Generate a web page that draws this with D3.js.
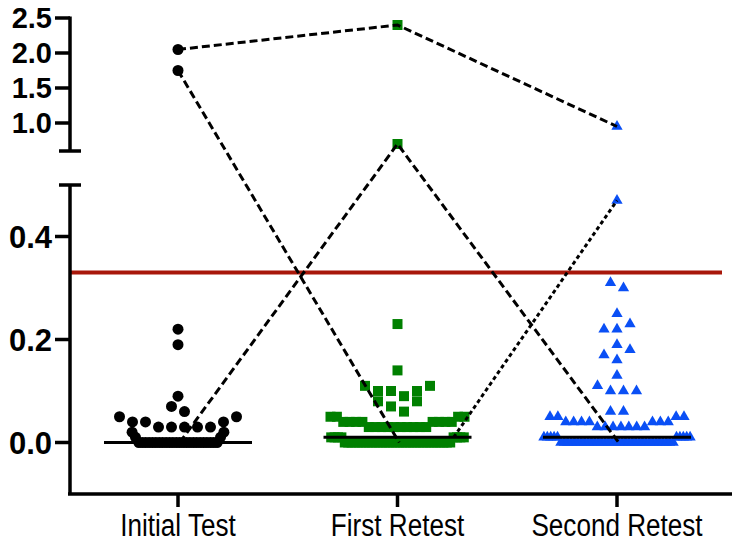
<!DOCTYPE html>
<html>
<head>
<meta charset="utf-8">
<script src="https://cdn.jsdelivr.net/npm/d3@7"></script>
<style>
body { margin: 0; background: #fff; }
svg { display: block; }
</style>
</head>
<body>
<div id="chart"></div>
<script>
// Data
var categories = ["Initial Test", "First Retest", "Second Retest"];

var initialTest = [2.05, 1.75, 0.22, 0.19, 0.09, 0.07, 0.06,
	0.05, 0.05, 0.04, 0.04, 0.04, 0.03, 0.03, 0.03, 0.03, 0.03,
	0.02, 0.02, 0.01, 0.01,
	0, 0, 0, 0, 0, 0, 0, 0, 0, 0, 0, 0, 0, 0, 0, 0, 0, 0, 0, 0, 0, 0, 0, 0];

var firstRetest = [2.4, 0.7, 0.23, 0.14,
	0.11, 0.11, 0.10, 0.10, 0.10, 0.09,
	0.08, 0.08, 0.07, 0.06,
	0.05, 0.05, 0.05, 0.05,
	0.04, 0.04, 0.04, 0.04, 0.04, 0.04, 0.04, 0.04,
	0.03, 0.03, 0.03, 0.03, 0.03, 0.03, 0.03, 0.03, 0.03, 0.03,
	0.01, 0.01, 0.01, 0.01, 0.01, 0.01, 0.01, 0.01,
	0, 0, 0, 0, 0, 0, 0, 0, 0, 0, 0, 0, 0, 0, 0, 0,
	0, 0, 0, 0, 0, 0, 0, 0, 0, 0, 0, 0, 0, 0, 0, 0];

var secondRetest = [0.95, 0.47, 0.31, 0.30, 0.25, 0.23, 0.22, 0.22,
	0.19, 0.18, 0.17, 0.16, 0.13, 0.11, 0.10, 0.10, 0.10, 0.06, 0.06,
	0.05, 0.05, 0.05, 0.05,
	0.04, 0.04, 0.04, 0.04, 0.04, 0.04, 0.04,
	0.03, 0.03, 0.03, 0.03, 0.03, 0.03, 0.03,
	0.01, 0.01, 0.01, 0.01, 0.01, 0.01, 0.01, 0.01, 0.01, 0.01,
	0, 0, 0, 0, 0, 0, 0, 0, 0, 0, 0, 0, 0, 0, 0, 0, 0,
	0, 0, 0, 0, 0, 0, 0, 0, 0, 0, 0, 0, 0, 0, 0, 0, 0];

// connecting lines (one value per category, null = no point)
var linkTop = [2.05, 2.4, 0.95];
var linkDown = [1.75, 0, null];
var linkZigzag = [0, 0.7, 0];
var linkDotted = [null, 0.01, 0.47];

var threshold = 0.33;

var upperTicks = [1.0, 1.5, 2.0, 2.5];
var lowerTicks = [0.0, 0.2, 0.4];

// Dimensions
var outerWidth = 732;
var outerHeight = 546;
var axisX = 70;
var axisY = 494;

var groups = [initialTest, firstRetest, secondRetest];
var colors = ["#000000", "#008000", "#0a4ff5"];
var shapes = [d3.symbolCircle, d3.symbolSquare, d3.symbolTriangle];
var symSizes = [95, 100, 55];

var svg = d3.select("#chart").append("svg")
	.attr("width", outerWidth)
	.attr("height", outerHeight);

// broken y axis: two scales
var yUpper = d3.scaleLinear().domain([0.6, 2.5]).range([151, 18]);
var yLower = d3.scaleLinear().domain([-0.1, 0.5]).range([494, 185]);
function yPos(v) { return v > 0.6 ? yUpper(v) : yLower(v); }

var xScale = d3.scalePoint().domain(categories).range([178, 617]);

// layout points like prism: bin values, spread each bin sideways
function layout(values, cx) {
	var sorted = values.slice().sort(d3.ascending);
	var out = [];
	var i = 0;
	while (i < sorted.length) {
		var start = sorted[i];
		var bin = [];
		while (i < sorted.length && sorted[i] < start + 0.03 - 1e-9) { bin.push(sorted[i]); i++; }
		var n = bin.length;
		var s = n > 24 ? 3.4 : Math.min(13, 134 / Math.max(n - 1, 1));
		var slots = [];
		if (n % 2 === 1) {
			slots.push(0);
			for (var k = 1; slots.length < n; k++) { slots.push(-k * s); if (slots.length < n) slots.push(k * s); }
		} else {
			for (var k = 0; slots.length < n; k++) { slots.push((k + 0.5) * s); if (slots.length < n) slots.push(-(k + 0.5) * s); }
		}
		bin.forEach(function(v, j) { out.push({ value: v, x: cx + slots[j], y: yPos(v) }); });
	}
	return out;
}

var pointSets = groups.map(function(vals, gi) { return layout(vals, xScale(categories[gi])); });

// red threshold line
svg.append("line")
	.attr("x1", axisX).attr("x2", 722)
	.attr("y1", yLower(threshold)).attr("y2", yLower(threshold))
	.attr("stroke", "#a8170a").attr("stroke-width", 4);

// points
pointSets.forEach(function(pts, gi) {
	svg.append("g").selectAll("path").data(pts).enter().append("path")
		.attr("d", d3.symbol().type(shapes[gi]).size(symSizes[gi]))
		.attr("transform", function(d) { return "translate(" + d.x + "," + d.y + ")"; })
		.attr("fill", colors[gi]);
});

// medians
groups.forEach(function(vals, gi) {
	var cx = xScale(categories[gi]);
	var m = d3.median(vals);
	svg.append("line")
		.attr("x1", cx - 74).attr("x2", cx + 74)
		.attr("y1", yPos(m)).attr("y2", yPos(m))
		.attr("stroke", "#000").attr("stroke-width", 3);
});

// pick the point with a value, nearest the centre (right side first)
function pickPoint(gi, v) {
	var cx = xScale(categories[gi]);
	var cand = pointSets[gi].filter(function(p) { return Math.abs(p.value - v) < 1e-9; });
	cand.sort(function(a, b) { return Math.abs(a.x - cx) - Math.abs(b.x - cx) || b.x - a.x; });
	return cand[0];
}

function drawLink(link, dash) {
	var pts = [];
	link.forEach(function(v, gi) { if (v !== null) pts.push(pickPoint(gi, v)); });
	svg.append("path")
		.attr("d", d3.line().x(function(d) { return d.x; }).y(function(d) { return d.y; })(pts))
		.attr("fill", "none")
		.attr("stroke", "#000")
		.attr("stroke-width", 3)
		.attr("stroke-dasharray", dash);
}
drawLink(linkTop, "8,4");
drawLink(linkDown, "8,4");
drawLink(linkZigzag, "8,4");
drawLink(linkDotted, "4,3");

// y axis pieces
var axisG = svg.append("g").attr("stroke", "#000").attr("stroke-width", 3.5);
axisG.append("line").attr("x1", axisX).attr("x2", axisX).attr("y1", yUpper(2.5) - 1.5).attr("y2", 151);
axisG.append("line").attr("x1", axisX - 11).attr("x2", axisX + 11).attr("y1", 151).attr("y2", 151);
axisG.append("line").attr("x1", axisX).attr("x2", axisX).attr("y1", 185).attr("y2", axisY);
axisG.append("line").attr("x1", axisX - 11).attr("x2", axisX + 11).attr("y1", 185).attr("y2", 185);
axisG.append("line").attr("x1", axisX - 2).attr("x2", outerWidth).attr("y1", axisY).attr("y2", axisY);

function yTicks(scale, ticks, fontSize) {
	var g = svg.append("g");
	ticks.forEach(function(t) {
		var y = scale(t);
		g.append("line").attr("x1", 55).attr("x2", axisX).attr("y1", y).attr("y2", y)
			.attr("stroke", "#000").attr("stroke-width", 3.5);
		g.append("text")
			.attr("x", 52).attr("y", y)
			.attr("text-anchor", "end")
			.attr("dy", "0.36em")
			.attr("font-family", "Liberation Sans, Arial, sans-serif")
			.attr("font-weight", "bold")
			.attr("font-size", fontSize)
			.text(d3.format(".1f")(t));
	});
}
yTicks(yUpper, upperTicks, 29);
yTicks(yLower, lowerTicks, 31);

// x axis ticks and labels
categories.forEach(function(c) {
	var x = xScale(c);
	svg.append("line").attr("x1", x).attr("x2", x).attr("y1", axisY).attr("y2", axisY + 13)
		.attr("stroke", "#000").attr("stroke-width", 3.5);
	svg.append("text")
		.attr("transform", "translate(" + x + ",536) scale(0.9,1.05)")
		.attr("text-anchor", "middle")
		.attr("font-family", "Liberation Sans, Arial, sans-serif")
		.attr("font-size", 29)
		.text(c);
});
</script>
</body>
</html>
